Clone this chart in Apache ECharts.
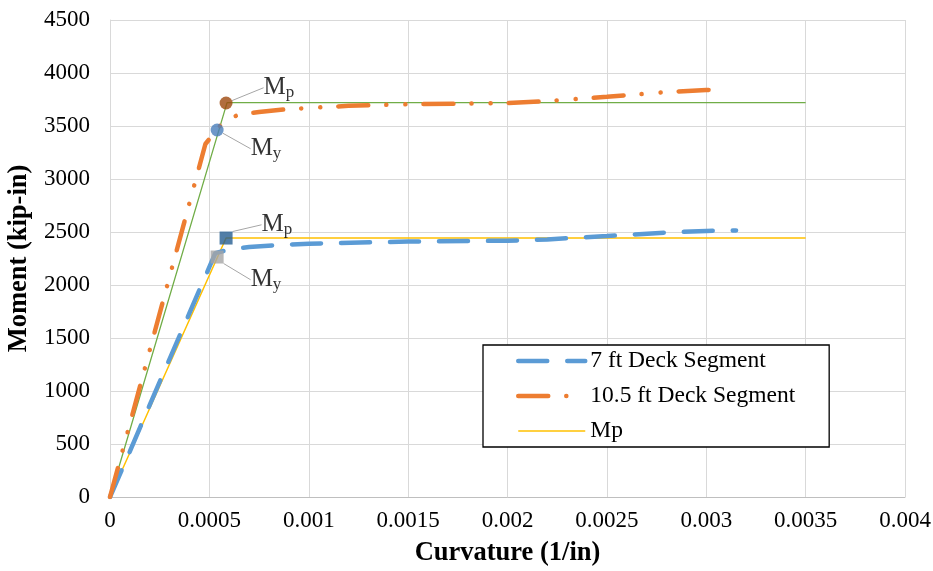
<!DOCTYPE html>
<html><head><meta charset="utf-8">
<script src="https://cdn.jsdelivr.net/npm/echarts@6/dist/echarts.min.js"></script>
<style>html,body{margin:0;padding:0;background:#fff}#c{width:933px;height:571px}</style>
</head><body><div id="c"></div>
<script>
// Data (curvature 1/in, moment kip-in)
var deck7 = [[0,0],[0.0001,430],[0.0002,870],[0.0004,1736],[0.00053,2300],[0.0006,2335],[0.0007,2358],[0.00084,2377],[0.001,2390],[0.0015,2410],[0.002,2418],[0.0022,2430],[0.0025,2462],[0.0028,2495],[0.003,2510],[0.00315,2515]];
var deck105 = [[0,0],[0.0001,690],[0.0003,2080],[0.00048,3330],[0.00057,3540],[0.00065,3610],[0.00075,3632],[0.0009,3660],[0.0012,3690],[0.0015,3705],[0.002,3717],[0.0022,3735],[0.0025,3775],[0.0028,3820],[0.003,3840],[0.0031,3846]];
var mp7 = [[0,0],[0.000584,2443],[0.0035,2443]];
var mp105 = [[0,0],[0.000589,3720],[0.0035,3720]];
var myPt105 = [0.000539,3462];
var mpPt105 = [0.000584,3717];
var myPt7 = [0.000539,2264];
var mpPt7 = [0.000584,2443];
var xTicks = ['0','0.0005','0.001','0.0015','0.002','0.0025','0.003','0.0035','0.004'];
var yTicks = ['0','500','1000','1500','2000','2500','3000','3500','4000','4500'];

var FONT = 'Liberation Serif';
var chart = echarts.init(document.getElementById('c'));
var subRich = {
  m: {fontFamily: FONT, fontSize: 25, color: '#000'},
  s: {fontFamily: FONT, fontSize: 17, color: '#000', padding: [11,0,0,0]}
};
function pointSeries(pt, symbol, color, size, txt, dx, dy) {
  return {
    type: 'scatter', name: 'pt' + txt + color, data: [pt], symbol: symbol, symbolSize: size,
    itemStyle: {color: color}, z: 5,
    label: {show: true, formatter: '{m|M}{s|' + txt + '}', rich: subRich, position: 'right'},
    labelLayout: {dx: dx, dy: dy},
    labelLine: {show: true, lineStyle: {color: '#a6a6a6', width: 1}},
    emphasis: {disabled: true}, silent: true
  };
}
chart.setOption({
  animation: false,
  grid: {left: 110, right: 28, top: 20, bottom: 74, containLabel: false, outerBoundsMode: 'none'},
  xAxis: {
    type: 'value', min: 0, max: 0.004, interval: 0.0005,
    name: 'Curvature (1/in)', nameLocation: 'middle', nameGap: 43,
    nameTextStyle: {fontFamily: FONT, fontSize: 26.5, fontWeight: 'bold', color: '#000'},
    axisLine: {show: true, lineStyle: {color: '#bfbfbf'}},
    axisTick: {show: false},
    axisLabel: {fontFamily: FONT, fontSize: 23, color: '#000', margin: 12,
      formatter: function (v) { return xTicks[Math.round(v / 0.0005)]; }},
    splitLine: {show: true, lineStyle: {color: '#d9d9d9'}}
  },
  yAxis: {
    type: 'value', min: 0, max: 4500, interval: 500,
    name: 'Moment (kip-in)', nameLocation: 'middle', nameGap: 75,
    nameTextStyle: {fontFamily: FONT, fontSize: 26.5, fontWeight: 'bold', color: '#000'},
    axisLine: {show: true, lineStyle: {color: '#d9d9d9'}},
    axisTick: {show: false},
    axisLabel: {fontFamily: FONT, fontSize: 23, color: '#000', margin: 20,
      formatter: function (v) { return yTicks[Math.round(v / 500)]; }},
    splitLine: {show: true, lineStyle: {color: '#d9d9d9'}}
  },
  legend: {
    data: [
      {name: '7 ft Deck Segment', itemStyle: {opacity: 0}, lineStyle: {width: 4.5}},
      {name: '10.5 ft Deck Segment', itemStyle: {opacity: 0}, lineStyle: {width: 4.5}},
      {name: 'Mp', itemStyle: {opacity: 0}, lineStyle: {width: 1.5}}
    ],
    orient: 'vertical', left: 483, top: 345,
    padding: [4, 34, 4, 33], itemGap: 11, itemWidth: 67, itemHeight: 14,
    borderColor: '#000', borderWidth: 1.3, backgroundColor: '#fff',
    textStyle: {fontFamily: FONT, fontSize: 23.5, lineHeight: 24, color: '#000'},
    selectedMode: false
  },
  series: [
    {type: 'line', name: 'Mp10.5', data: mp105, symbol: 'none', z: 2,
      lineStyle: {color: '#70ad47', width: 1.3}, itemStyle: {color: '#70ad47'}},
    {type: 'line', name: 'Mp', data: mp7, symbol: 'none', z: 2,
      lineStyle: {color: '#ffc000', width: 1.5}, itemStyle: {color: '#ffc000'}},
    {type: 'line', name: '7 ft Deck Segment', data: deck7, symbol: 'none', z: 3,
      lineStyle: {color: '#5b9bd5', width: 4.5, type: [29, 20], cap: 'round'}, itemStyle: {color: '#5b9bd5'}},
    {type: 'line', name: '10.5 ft Deck Segment', data: deck105, symbol: 'none', z: 3,
      lineStyle: {color: '#ed7d31', width: 4.5, type: [30, 18, 0.1, 19, 0.1, 18], cap: 'round'}, itemStyle: {color: '#ed7d31'}},
    pointSeries(myPt105, 'circle', '#4a7ebb', 13, 'y', 22, 18),
    pointSeries(mpPt105, 'circle', '#9e480e', 13, 'p', 26, -16),
    pointSeries(myPt7, 'rect', '#a5a5a5', 13, 'y', 22, 22),
    pointSeries(mpPt7, 'rect', '#255e91', 13, 'p', 24, -14)
  ]
});
</script></body></html>
